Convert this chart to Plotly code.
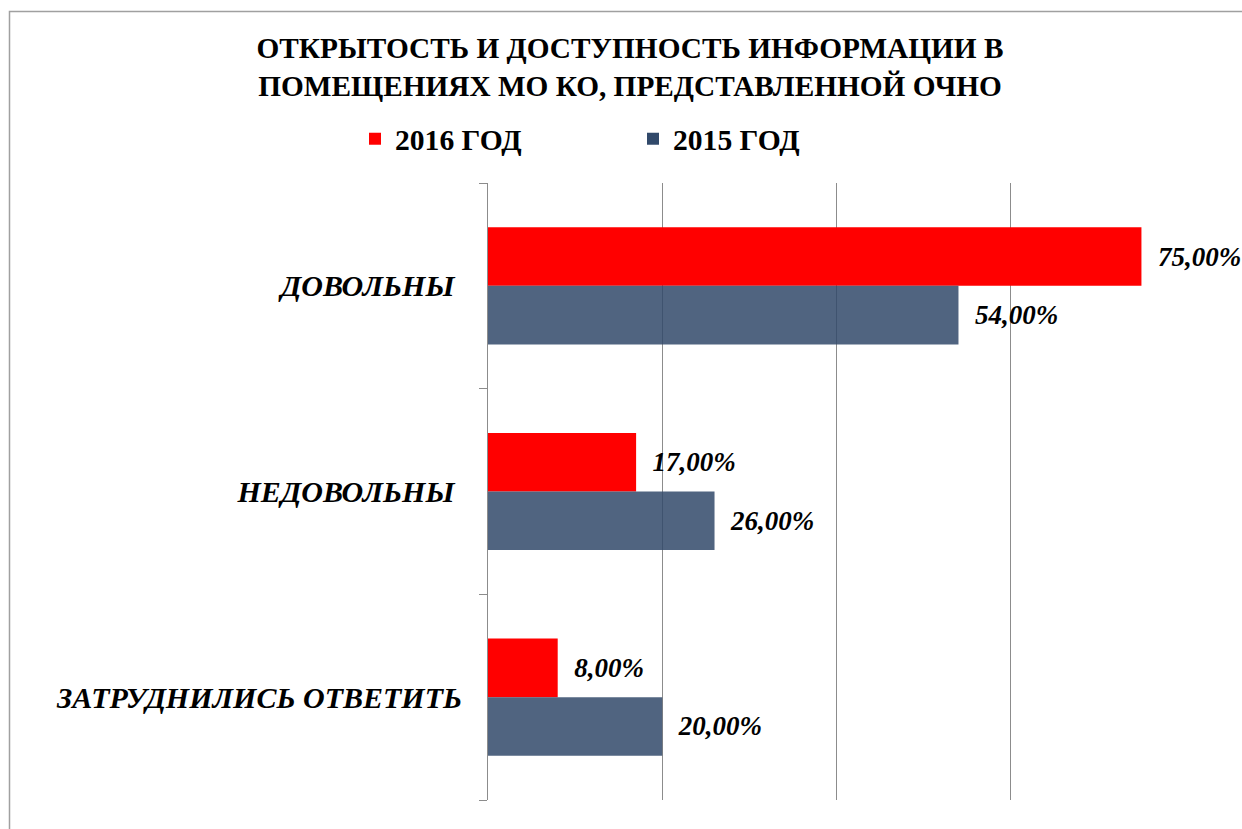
import plotly.graph_objects as go

categories = ["ДОВОЛЬНЫ\u00a0", "НЕДОВОЛЬНЫ\u00a0", "ЗАТРУДНИЛИСЬ ОТВЕТИТЬ"]
series_names = ["2016 ГОД", "2015 ГОД"]
values_2016 = [0.75, 0.17, 0.08]
values_2015 = [0.54, 0.26, 0.20]
colors = ["#FF0000", "#31496A"]
opacities = [1.0, 0.85]

FONT = "Liberation Serif, 'Times New Roman', Times, serif"
W, H = 1242, 829
L, R, T, B = 488, 57, 183, 29

fig = go.Figure()
for name, vals, col, op in zip(series_names, [values_2016, values_2015], colors, opacities):
    fig.add_trace(go.Bar(
        y=categories, x=vals, name=f"<b>{name}</b>", orientation="h",
        marker=dict(color=col, opacity=op, line=dict(width=0)),
        texttemplate="<b><i>\u00a0\u00a0%{x:.2%}</i></b>", textposition="outside",
        textfont=dict(family=FONT, size=27, color="black"),
        constraintext="none", cliponaxis=False,
    ))

fig.update_layout(
    width=W, height=H,
    margin=dict(l=L, r=R, t=T, b=B),
    paper_bgcolor="white", plot_bgcolor="white",
    separators=", ",
    barmode="group", bargap=0.43, bargroupgap=0,
    font=dict(family=FONT, color="black"),
    title=dict(
        text="<b>ОТКРЫТОСТЬ И ДОСТУПНОСТЬ ИНФОРМАЦИИ В<br>ПОМЕЩЕНИЯХ МО КО, ПРЕДСТАВЛЕННОЙ ОЧНО</b>",
        font=dict(family=FONT, size=29.3, color="black"),
        xref="container", x=630 / W, xanchor="center",
        yref="container", y=1 - 58 / H, yanchor="middle",
    ),
    legend=dict(
        orientation="h", xref="container", yref="container",
        x=355 / W, xanchor="left", y=1 - 139 / H, yanchor="middle",
        font=dict(family=FONT, size=29.6, color="black"),
        entrywidth=233, entrywidthmode="pixels",
        traceorder="normal",
    ),
    showlegend=True,
    xaxis=dict(
        range=[0, 0.8], dtick=0.2, showticklabels=False,
        showgrid=True, gridcolor="#8C8C8C", gridwidth=1,
        zeroline=False, showline=False, ticks="",
    ),
    yaxis=dict(
        autorange="reversed", tickson="boundaries", ticks="outside",
        ticklen=8, tickcolor="#8C8C8C", showline=True, linecolor="#8C8C8C",
        linewidth=1, showgrid=False, ticklabelstandoff=19,
        tickfont=dict(family=FONT, size=30, color="black"),
        tickvals=categories,
        ticktext=[f"<b><i>{c}</i></b>" for c in categories],
    ),
    shapes=[dict(
        type="rect", xref="paper", yref="paper",
        x0=(9.5 - L) / (W - L - R), x1=1.3,
        y0=-0.2, y1=(H - B - 11.5) / (H - T - B),
        line=dict(color="#A0A0A0", width=1.5), fillcolor="rgba(0,0,0,0)",
        layer="below",
    )],
)

fig.write_html("out.html", config={"displayModeBar": False},
               post_script="document.body.style.margin='0px';")
